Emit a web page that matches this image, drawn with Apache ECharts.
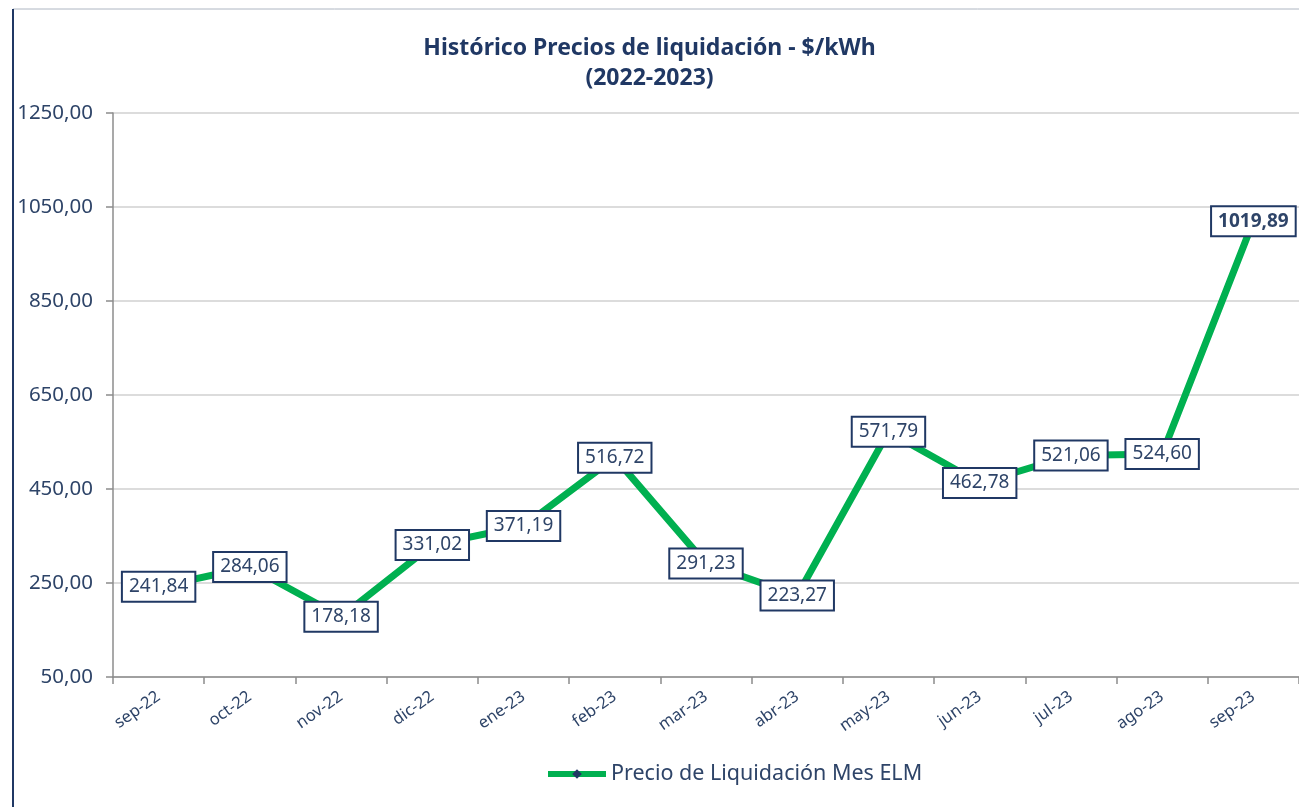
<!DOCTYPE html>
<html>
<head>
<meta charset="utf-8">
<script src="https://cdn.jsdelivr.net/npm/echarts@6/dist/echarts.min.js"></script>
<style>
  html, body { margin: 0; padding: 0; background: #fff; }
  #chart { width: 1299px; height: 807px; }
</style>
</head>
<body>
<div id="chart"></div>
<script>
// datos
var meses = ['sep-22', 'oct-22', 'nov-22', 'dic-22', 'ene-23', 'feb-23', 'mar-23',
             'abr-23', 'may-23', 'jun-23', 'jul-23', 'ago-23', 'sep-23'];
var precios = [241.84, 284.06, 178.18, 331.02, 371.19, 516.72, 291.23,
               223.27, 571.79, 462.78, 521.06, 524.60, 1019.89];
var ejeY = { min: 50, max: 1250, interval: 200 };

var azul = '#203864';
var texto = '#2E4468';
var verde = '#00B050';

function coma(v) {
  return v.toFixed(2).replace('.', ',');
}

var datos = precios.map(function (v, i) {
  var d = { value: v };
  // el ultimo valor va en negrita
  if (i === precios.length - 1) d.label = { fontWeight: 'bold' };
  return d;
});

var myChart = echarts.init(document.getElementById('chart'));
var option = {
  animation: false,
  textStyle: { fontFamily: 'Noto Sans' },
  title: {
    text: 'Histórico Precios de liquidación - $/kWh\n(2022-2023)',
    left: 'center',
    top: 28,
    textStyle: { color: azul, fontSize: 23, fontWeight: 'bold', lineHeight: 30, fontFamily: 'Noto Sans' }
  },
  graphic: [
    { type: 'line', shape: { x1: 13, y1: 9, x2: 1299, y2: 9 }, style: { stroke: '#AEB6C2', lineWidth: 1 } },
    { type: 'line', shape: { x1: 13, y1: 9, x2: 13, y2: 807 }, style: { stroke: azul, lineWidth: 2 } }
  ],
  legend: {
    left: 540,
    top: 758,
    itemWidth: 58,
    itemHeight: 12,
    itemGap: 4,
    lineStyle: { width: 6 },
    textStyle: { color: texto, fontSize: 21.5, fontFamily: 'Noto Sans' },
    data: ['Precio de Liquidación Mes ELM']
  },
  grid: { left: 113, right: -10, top: 113, bottom: 130 },
  xAxis: {
    type: 'category',
    data: meses,
    boundaryGap: true,
    axisLine: { lineStyle: { color: '#8C8C8C', width: 1.5 } },
    axisTick: { show: true, length: 7, lineStyle: { color: '#8C8C8C', width: 1.5 } },
    axisLabel: { color: texto, fontSize: 16.5, rotate: 35, margin: 18 }
  },
  yAxis: {
    type: 'value',
    min: ejeY.min,
    max: ejeY.max,
    interval: ejeY.interval,
    axisLine: { show: true, lineStyle: { color: '#8C8C8C', width: 1.5 } },
    axisTick: { show: true, inside: false, length: 7, lineStyle: { color: '#8C8C8C', width: 1.5 } },
    splitLine: { lineStyle: { color: '#D0D0D0', width: 1.5 } },
    axisLabel: {
      color: texto, fontSize: 20.5, margin: 20,
      formatter: function (v) { return coma(v); }
    }
  },
  series: [{
    name: 'Precio de Liquidación Mes ELM',
    type: 'line',
    data: datos,
    symbol: 'diamond',
    symbolSize: 0,
    showSymbol: true,
    itemStyle: { color: azul },
    lineStyle: { color: verde, width: 7 },
    label: {
      show: true,
      position: 'inside',
      formatter: function (p) { return coma(p.value); },
      color: texto,
      fontSize: 19,
      lineHeight: 21,
      backgroundColor: '#fff',
      borderColor: azul,
      borderWidth: 2,
      padding: [4, 6, 3, 6]
    },
    labelLayout: { hideOverlap: false }
  }]
};
myChart.setOption(option);
window.onresize = function () { myChart.resize(); };
</script>
</body>
</html>
